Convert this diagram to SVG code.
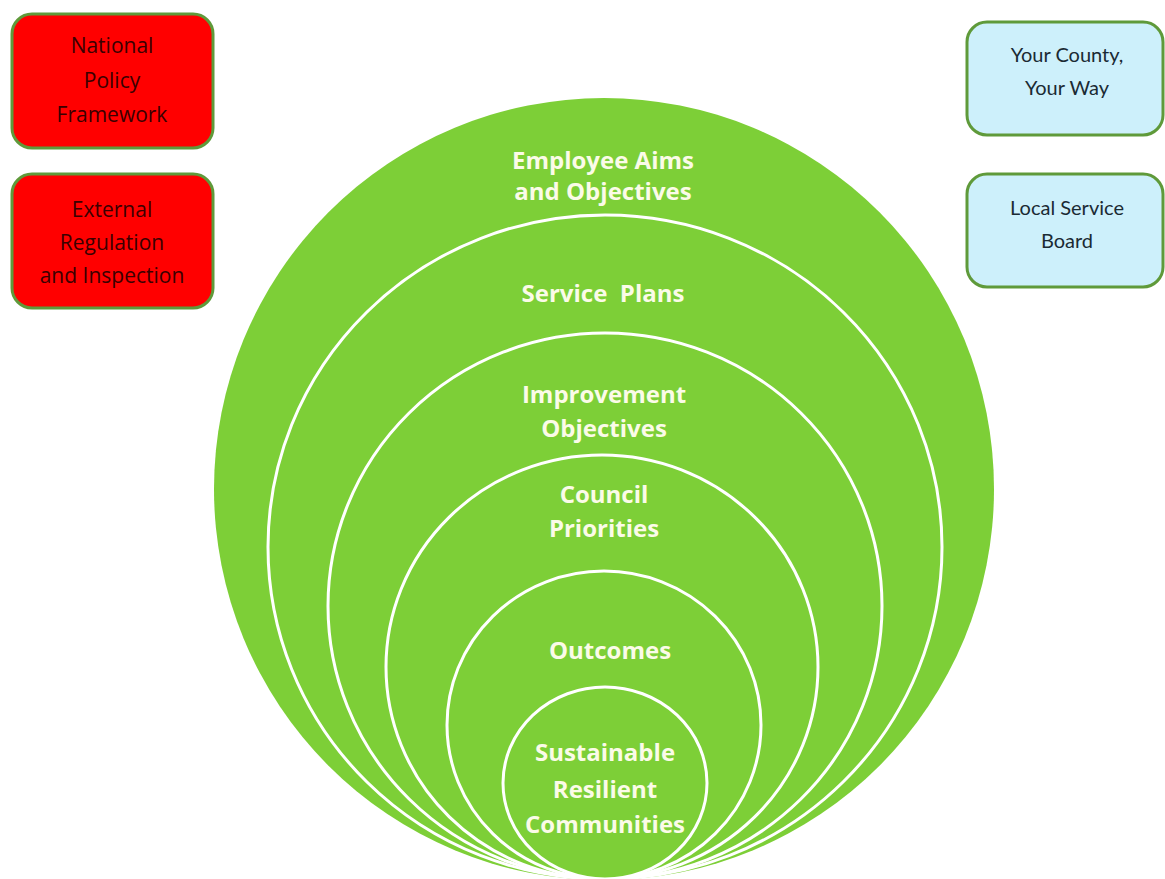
<svg xmlns="http://www.w3.org/2000/svg" width="1165" height="879" viewBox="0 0 1165 879">
<style>
.ring{stroke:#ffffff;stroke-width:3;fill:#7dcf37}
.lbl{font-family:"Open Sans","Liberation Sans",sans-serif;font-weight:bold;font-size:24px;fill:#fbfbe8;text-anchor:middle}
.red{fill:#ff0000;stroke:#5f9a3a;stroke-width:3}
.blue{fill:#cdf0fb;stroke:#5f9a3a;stroke-width:3}
.rtx{font-family:"Open Sans","Liberation Sans",sans-serif;font-size:21px;fill:#3a0000;text-anchor:middle}
.btx{font-family:Lato,"Liberation Sans",sans-serif;font-size:20px;fill:#1a2a33;text-anchor:middle}
</style>
<rect width="1165" height="879" fill="#ffffff"/>
<g id="ring-employee">
<ellipse cx="604" cy="489" rx="390" ry="391" fill="#7dcf37"/>
<text class="lbl" x="603" y="169">Employee Aims</text>
<text class="lbl" x="603" y="200">and Objectives</text>
</g>
<g id="ring-service">
<ellipse class="ring" cx="605" cy="547" rx="337" ry="332"/>
<text class="lbl" x="603" y="302" xml:space="preserve">Service  Plans</text>
</g>
<g id="ring-improvement">
<ellipse class="ring" cx="605" cy="606" rx="277" ry="273"/>
<text class="lbl" x="604" y="403">Improvement</text>
<text class="lbl" x="604" y="437">Objectives</text>
</g>
<g id="ring-council">
<ellipse class="ring" cx="602" cy="667" rx="216" ry="212"/>
<text class="lbl" x="604" y="503">Council</text>
<text class="lbl" x="604" y="537">Priorities</text>
</g>
<g id="ring-outcomes">
<ellipse class="ring" cx="604" cy="725" rx="157" ry="154"/>
<text class="lbl" x="610" y="659">Outcomes</text>
</g>
<g id="ring-sustainable">
<ellipse class="ring" cx="605" cy="783" rx="102" ry="96"/>
<text class="lbl" x="605" y="761">Sustainable</text>
<text class="lbl" x="605" y="798">Resilient</text>
<text class="lbl" x="605" y="833">Communities</text>
</g>
<g id="box-national">
<rect class="red" x="12" y="14" width="201" height="134" rx="20"/>
<text class="rtx" x="112" y="53">National</text>
<text class="rtx" x="112" y="88">Policy</text>
<text class="rtx" x="112" y="122">Framework</text>
</g>
<g id="box-external">
<rect class="red" x="12" y="174" width="201" height="134" rx="20"/>
<text class="rtx" x="112" y="217">External</text>
<text class="rtx" x="112" y="250">Regulation</text>
<text class="rtx" x="112" y="283">and Inspection</text>
</g>
<g id="box-county">
<rect class="blue" x="967" y="22" width="196" height="113" rx="20"/>
<text class="btx" x="1067" y="62">Your County,</text>
<text class="btx" x="1067" y="95">Your Way</text>
</g>
<g id="box-lsb">
<rect class="blue" x="967" y="174" width="196" height="113" rx="20"/>
<text class="btx" x="1067" y="215">Local Service</text>
<text class="btx" x="1067" y="248">Board</text>
</g>
<g id="connectors"/>
</svg>
